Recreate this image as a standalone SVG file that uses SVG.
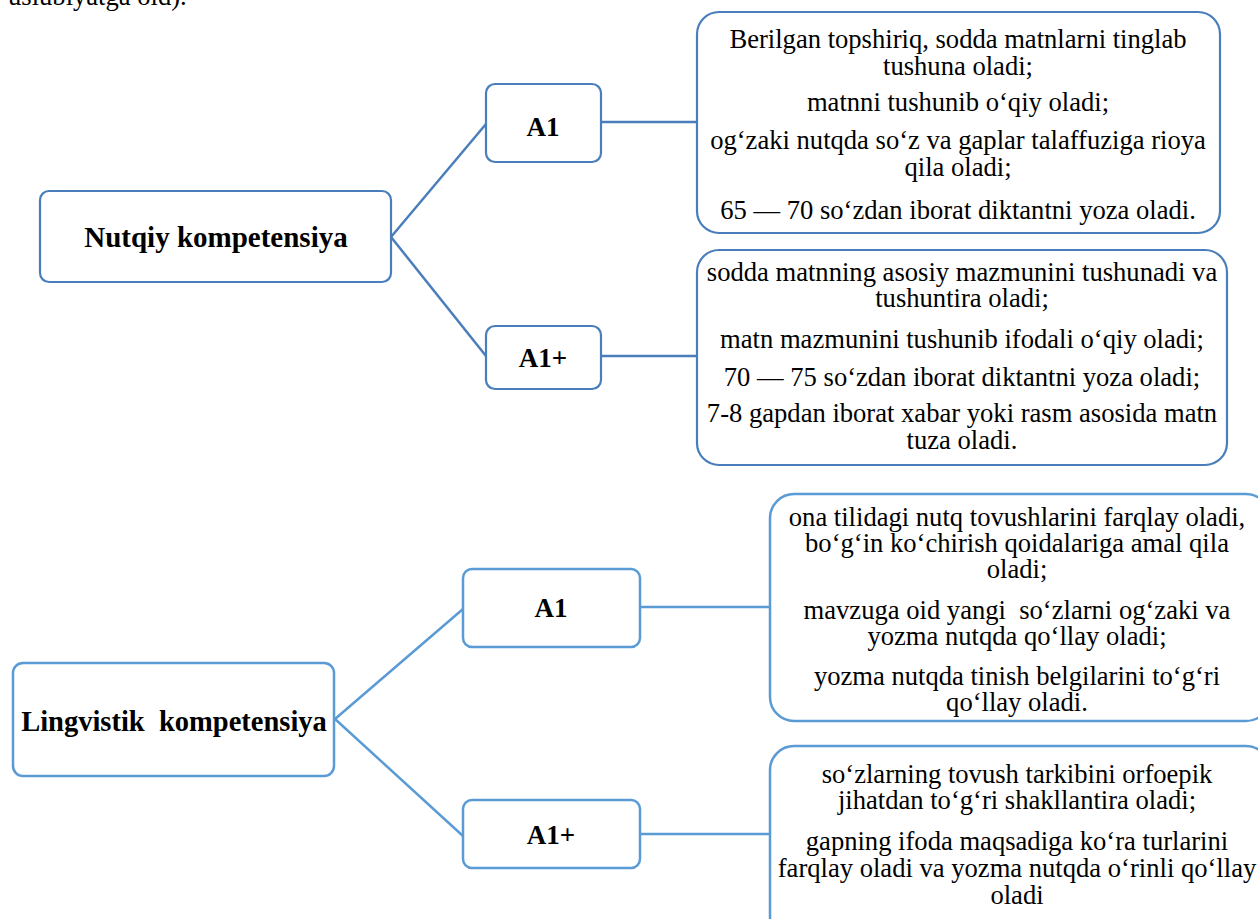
<svg xmlns="http://www.w3.org/2000/svg" width="1258" height="919" viewBox="0 0 1258 919">
<style>
  .bg{fill:#ffffff}
  .t{font-family:"Liberation Serif","Times New Roman",serif;font-size:26.6px;fill:#000;text-anchor:middle}
  .b{font-family:"Liberation Serif","Times New Roman",serif;font-weight:bold;fill:#000;text-anchor:middle}
  .top{fill:#fff;stroke:#4a7ebb;stroke-width:2.2}
  .bot{fill:#fff;stroke:#5b9bd5;stroke-width:2.5}
  .ctop{stroke:#4a7ebb;stroke-width:2.5;fill:none}
  .cbot{stroke:#5b9bd5;stroke-width:2.5;fill:none}
</style>
<rect class="bg" x="0" y="0" width="1258" height="919"/>
<text x="8" y="5" style="font-family:'Liberation Serif','Times New Roman',serif;font-size:26.6px;fill:#000">uslubiyatga oid).</text>

<g id="connectors">
  <path class="ctop" d="M391,237 L486,124"/>
  <path class="ctop" d="M391,237 L486,356"/>
  <path class="ctop" d="M601,122 L697,122"/>
  <path class="ctop" d="M601,356 L697,356"/>
  <path class="cbot" d="M335,719 L463,609"/>
  <path class="cbot" d="M335,719 L463,836"/>
  <path class="cbot" d="M640,607 L770,607"/>
  <path class="cbot" d="M640,834 L770,834"/>
</g>

<g id="nutqiy">
  <rect class="top" x="40" y="191" width="351" height="91" rx="9"/>
  <text class="b" x="216" y="247" font-size="29">Nutqiy kompetensiya</text>
</g>
<g id="nutqiy-a1">
  <rect class="top" x="486" y="84" width="115" height="78" rx="9"/>
  <text class="b" x="543" y="136" font-size="27">A1</text>
</g>
<g id="nutqiy-a1plus">
  <rect class="top" x="486" y="326" width="115" height="63" rx="9"/>
  <text class="b" x="543" y="367" font-size="27">A1+</text>
</g>
<g id="nutqiy-a1-desc">
  <rect class="top" x="697" y="12" width="523" height="221" rx="22"/>
  <text class="t" x="958" y="48">Berilgan topshiriq, sodda matnlarni tinglab</text>
  <text class="t" x="958" y="75">tushuna oladi;</text>
  <text class="t" x="958" y="111">matnni tushunib o‘qiy oladi;</text>
  <text class="t" x="958" y="149">og‘zaki nutqda so‘z va gaplar talaffuziga rioya</text>
  <text class="t" x="958" y="176">qila oladi;</text>
  <text class="t" x="958" y="219">65 — 70 so‘zdan iborat diktantni yoza oladi.</text>
</g>
<g id="nutqiy-a1plus-desc">
  <rect class="top" x="697" y="250" width="530" height="215" rx="22"/>
  <text class="t" x="962" y="281">sodda matnning asosiy mazmunini tushunadi va</text>
  <text class="t" x="962" y="307">tushuntira oladi;</text>
  <text class="t" x="962" y="348">matn mazmunini tushunib ifodali o‘qiy oladi;</text>
  <text class="t" x="962" y="386">70 — 75 so‘zdan iborat diktantni yoza oladi;</text>
  <text class="t" x="962" y="422">7-8 gapdan iborat xabar yoki rasm asosida matn</text>
  <text class="t" x="962" y="449">tuza oladi.</text>
</g>

<g id="lingvistik">
  <rect class="bot" x="13" y="663" width="321" height="113" rx="10"/>
  <text class="b" x="174" y="731" font-size="28.5" xml:space="preserve">Lingvistik  kompetensiya</text>
</g>
<g id="lingvistik-a1">
  <rect class="bot" x="463" y="569" width="177" height="78" rx="9"/>
  <text class="b" x="551" y="617" font-size="27">A1</text>
</g>
<g id="lingvistik-a1plus">
  <rect class="bot" x="463" y="800" width="177" height="68" rx="9"/>
  <text class="b" x="551" y="844" font-size="27">A1+</text>
</g>
<g id="lingvistik-a1-desc">
  <rect class="bot" x="770" y="494" width="500" height="227" rx="24"/>
  <text class="t" x="1017" y="526">ona tilidagi nutq tovushlarini farqlay oladi,</text>
  <text class="t" x="1017" y="552">bo‘g‘in ko‘chirish qoidalariga amal qila</text>
  <text class="t" x="1017" y="578">oladi;</text>
  <text class="t" x="1017" y="619" xml:space="preserve">mavzuga oid yangi  so‘zlarni og‘zaki va</text>
  <text class="t" x="1017" y="645">yozma nutqda qo‘llay oladi;</text>
  <text class="t" x="1017" y="685">yozma nutqda tinish belgilarini to‘g‘ri</text>
  <text class="t" x="1017" y="711">qo‘llay oladi.</text>
</g>
<g id="lingvistik-a1plus-desc">
  <rect class="bot" x="770" y="746" width="500" height="200" rx="24"/>
  <text class="t" x="1017" y="783">so‘zlarning tovush tarkibini orfoepik</text>
  <text class="t" x="1017" y="809">jihatdan to‘g‘ri shakllantira oladi;</text>
  <text class="t" x="1017" y="850">gapning ifoda maqsadiga ko‘ra turlarini</text>
  <text class="t" x="1017" y="877">farqlay oladi va yozma nutqda o‘rinli qo‘llay</text>
  <text class="t" x="1017" y="904">oladi</text>
</g>
</svg>
